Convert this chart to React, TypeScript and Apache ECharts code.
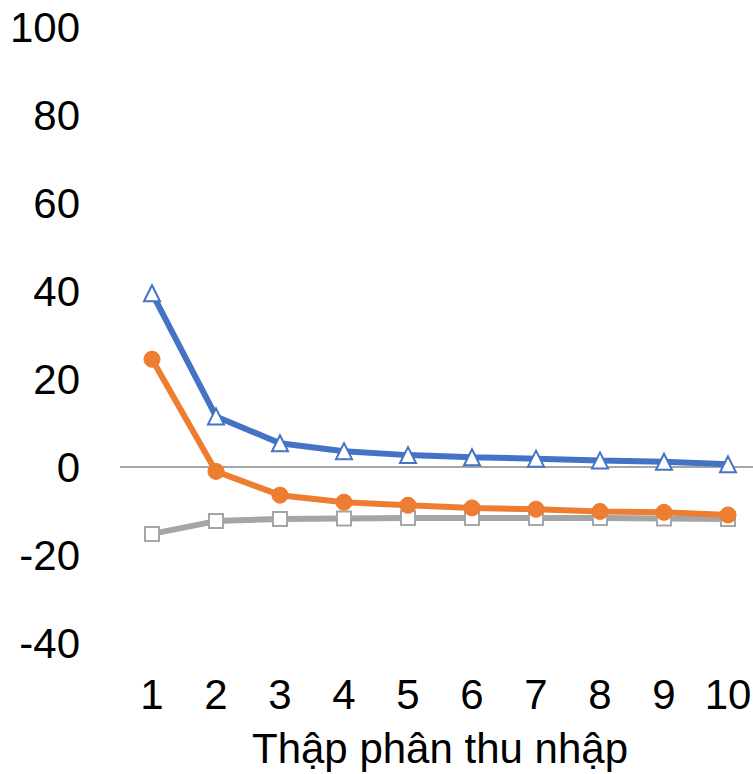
import React, { useEffect, useRef } from "react";
import * as echarts from "echarts";

const categories = ["1", "2", "3", "4", "5", "6", "7", "8", "9", "10"];
const blueValues = [39.5, 11.5, 5.4, 3.6, 2.7, 2.2, 1.9, 1.5, 1.2, 0.6];
const orangeValues = [24.5, -1.0, -6.4, -8.0, -8.7, -9.3, -9.6, -10.1, -10.3, -10.9];
const grayValues = [-15.2, -12.3, -11.8, -11.7, -11.6, -11.6, -11.6, -11.6, -11.7, -11.8];
const xAxisTitle = "Thập phân thu nhập";

export default function App() {
  const ref = useRef<HTMLDivElement>(null);
  useEffect(() => {
    if (!ref.current) return;
    const chart = echarts.init(ref.current, null, { renderer: "svg" });
    const font = "'Liberation Sans', Arial, sans-serif";
    chart.setOption({
      animation: false,
      backgroundColor: "#ffffff",
      grid: {
        left: 120,
        width: 640,
        top: 27,
        bottom: 131,
        containLabel: false,
        outerBoundsMode: "none",
      },
      xAxis: {
        type: "category",
        data: categories,
        boundaryGap: true,
        axisLine: { show: false, onZero: false },
        axisTick: { show: false },
        axisLabel: { fontSize: 42, color: "#000", fontFamily: font, margin: 30 },
        name: xAxisTitle,
        nameLocation: "middle",
        nameGap: 84,
        nameTextStyle: { fontSize: 42, color: "#000", fontFamily: font },
      },
      yAxis: {
        type: "value",
        min: -40,
        max: 100,
        interval: 20,
        axisLine: { show: false },
        axisTick: { show: false },
        splitLine: { show: false },
        axisLabel: { fontSize: 42, color: "#000", fontFamily: font, margin: 40 },
      },
      series: [
        {
          type: "line",
          data: grayValues,
          symbol: "rect",
          symbolSize: 14,
          lineStyle: { color: "#a5a5a5", width: 6 },
          itemStyle: { color: "#ffffff", borderColor: "#a5a5a5", borderWidth: 2 },
          z: 2,
          markLine: {
            silent: true,
            symbol: "none",
            label: { show: false },
            lineStyle: { color: "#a6a6a6", width: 2, type: "solid" },
            data: [{ yAxis: 0 }],
            z: 1,
          },
        },
        {
          type: "line",
          data: orangeValues,
          symbol: "circle",
          symbolSize: 16,
          lineStyle: { color: "#ed7d31", width: 6 },
          itemStyle: { color: "#ed7d31", borderColor: "#ed7d31", borderWidth: 1 },
          z: 3,
        },
        {
          type: "line",
          data: blueValues,
          symbol: "triangle",
          symbolSize: 16,
          lineStyle: { color: "#4472c4", width: 6 },
          itemStyle: { color: "#ffffff", borderColor: "#4472c4", borderWidth: 2 },
          z: 4,
        },
      ],
    });
    return () => chart.dispose();
  }, []);
  return (
    <div
      ref={ref}
      style={{ position: "absolute", left: 0, top: 0, width: 753, height: 774 }}
    />
  );
}
